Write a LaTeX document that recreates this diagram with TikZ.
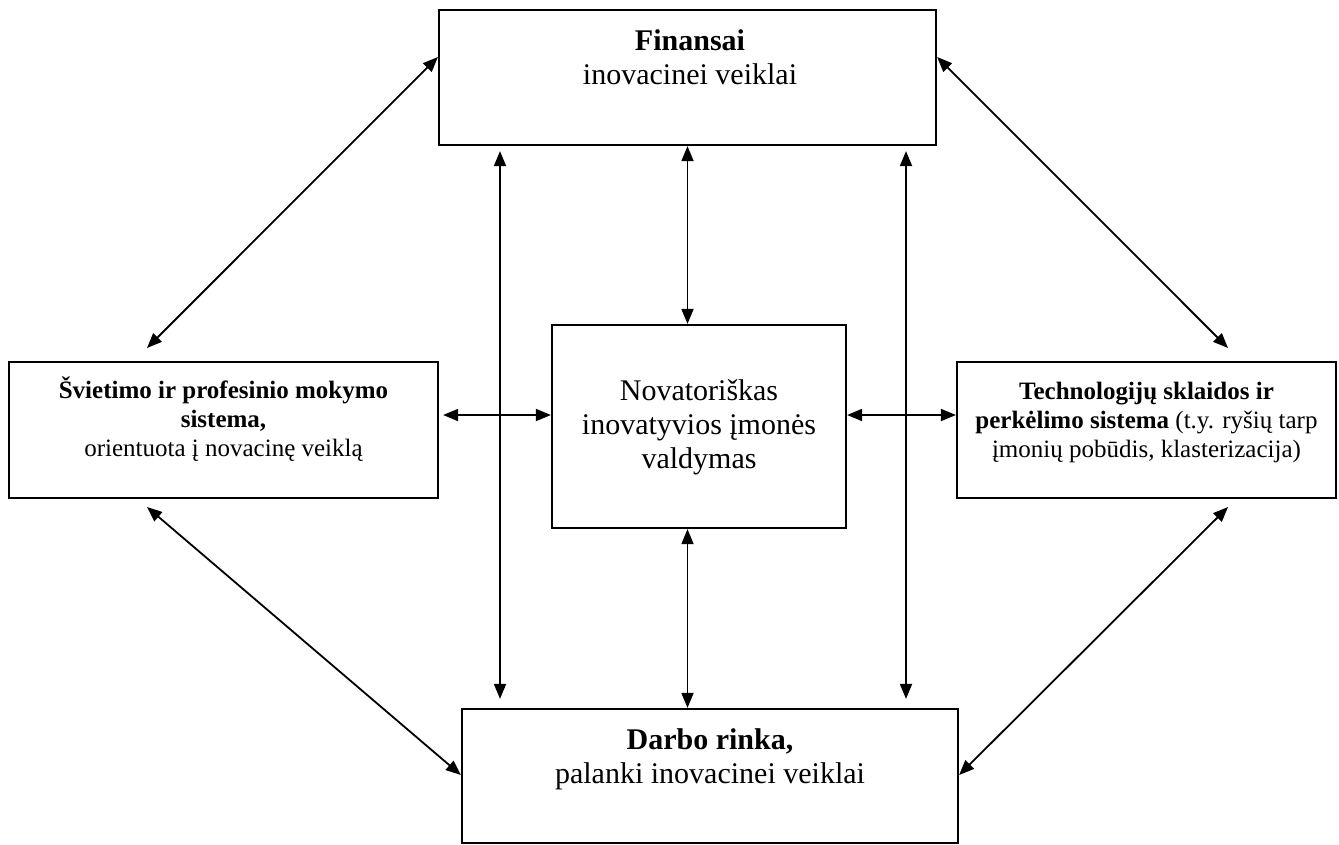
\documentclass[tikz,border=0pt]{standalone}
\usepackage{fontspec}
\setmainfont{Liberation Serif}
\usetikzlibrary{arrows.meta}
\begin{document}
\begin{tikzpicture}[x=1pt,y=-1pt,
  box/.style={draw, line width=2.2pt, inner sep=0pt},
  bigtxt/.style={align=center, inner sep=0pt, font=\fontsize{30}{34}\selectfont},
  smalltxt/.style={align=center, inner sep=0pt, font=\fontsize{25}{29}\selectfont},
  link/.style={{Triangle[length=15pt,width=12pt]}-{Triangle[length=15pt,width=12pt]}, line width=1.8pt}]
\useasboundingbox (0,0) rectangle (1339,844);
% boxes
\node[box, minimum width=497pt, minimum height=135pt] (top) at (687.5,77.5) {};
\node[box, minimum width=429pt, minimum height=136pt] (left) at (223.5,430) {};
\node[box, minimum width=379pt, minimum height=136pt] (right) at (1146.5,430) {};
\node[box, minimum width=294pt, minimum height=203pt] (center) at (699,426.5) {};
\node[box, minimum width=496pt, minimum height=134pt] (bottom) at (710,776) {};
% texts
\node[bigtxt] (toptxt) at (690,57.5) {\textbf{Finansai}\\inovacinei veiklai};
\node[bigtxt] (centertxt) at (699,427) {Novatoriškas\\inovatyvios įmonės\\valdymas};
\node[bigtxt] (bottomtxt) at (710,759.5) {\textbf{Darbo rinka,}\\palanki inovacinei veiklai};
\node[smalltxt] (lefttxt) at (223.5,419.5) {\textbf{Švietimo ir profesinio mokymo}\\\textbf{sistema,}\\orientuota į novacinę veiklą};
\node[smalltxt] (righttxt) at (1146.5,422) {\textbf{Technologijų sklaidos ir}\\\textbf{perkėlimo sistema} (t.y. ryšių tarp\\įmonių pobūdis, klasterizacija)};
% helper coordinates
\coordinate (vl) at (500,0);
\coordinate (vr) at (906,0);
\coordinate (hy) at (0,415);
\coordinate (ya) at (0,57);
\coordinate (yb) at (0,775);
\coordinate (aL) at (147,348);
\coordinate (aR) at (1228,348);
\coordinate (bL) at (147,507);
\coordinate (bR) at (1228,507);
% connectors
\draw[link, shorten <=5pt, shorten >=9pt] (top.south -| vl) -- (bottom.north -| vl);
\draw[link, shorten <=5pt, shorten >=9pt] (top.south -| vr) -- (bottom.north -| vr);
\draw[link] (top.south) -- (top.south |- center.north);
\draw[link] (top.south |- center.south) -- (top.south |- bottom.north);
\draw[link, shorten <=4pt] (left.east |- hy) -- (center.west |- hy);
\draw[link] (center.east |- hy) -- (right.west |- hy);
\draw[link] (aL) -- (top.west |- ya);
\draw[link] (top.east |- ya) -- (aR);
\draw[link] (bL) -- (bottom.west |- yb);
\draw[link] (bR) -- (bottom.east |- yb);
\end{tikzpicture}
\end{document}
